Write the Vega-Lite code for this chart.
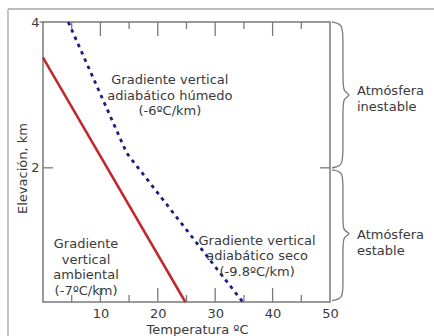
{
  "$schema": "https://vega.github.io/schema/vega-lite/v6.json",
  "width": 287,
  "height": 280,
  "autosize": {"type": "none"},
  "padding": {"left": 43, "top": 22, "right": 104, "bottom": 34},
  "background": "white",
  "config": {
    "view": {"stroke": "#7a7a7a", "strokeWidth": 1.5},
    "font": "DejaVu Sans",
    "axis": {"labelFont": "DejaVu Sans", "titleFont": "DejaVu Sans", "labelColor": "#3a3a3a", "titleColor": "#3a3a3a", "titleFontWeight": "normal", "grid": false, "domain": false, "labelFlush": false, "labelOverlap": false, "labelBound": false}
  },
  "datasets": {
    "amb": [
      {"t": 0, "h": 3.51},
      {"t": 24.8, "h": 0.16}
    ],
    "adi": [
      {"t": 4.4, "h": 4.0},
      {"t": 14.6, "h": 2.2},
      {"t": 34.8, "h": 0.16}
    ],
    "labels": [
      {"t": 22.1, "h": 3.2, "txt": "Gradiente vertical\nadiabático húmedo\n(-6ºC/km)"},
      {"t": 7.5, "h": 0.95, "txt": "Gradiente\nvertical\nambiental\n(-7ºC/km)"},
      {"t": 37.3, "h": 1.0, "txt": "Gradiente vertical\nadiabático seco\n(-9.8ºC/km)"}
    ],
    "side": [
      {"t": 54.7, "h": 3.055, "txt": "Atmósfera\ninestable"},
      {"t": 54.7, "h": 1.082, "txt": "Atmósfera\nestable"}
    ],
    "lines": [
      {"b": "top", "c": "guide", "i": 0, "t": 50.35, "h": 4.0},
      {"b": "top", "c": "guide", "i": 1, "t": 52.26, "h": 3.973},
      {"b": "top", "c": "guide", "i": 2, "t": 52.26, "h": 3.753},
      {"b": "top", "c": "guide", "i": 3, "t": 52.26, "h": 3.205},
      {"b": "top", "c": "guide", "i": 4, "t": 52.26, "h": 3.041},
      {"b": "top", "c": "guide", "i": 5, "t": 53.83, "h": 3.0},
      {"b": "top", "c": "guide", "i": 6, "t": 52.26, "h": 2.959},
      {"b": "top", "c": "guide", "i": 7, "t": 52.26, "h": 2.795},
      {"b": "top", "c": "guide", "i": 8, "t": 52.26, "h": 2.247},
      {"b": "top", "c": "guide", "i": 9, "t": 52.26, "h": 2.027},
      {"b": "top", "c": "guide", "i": 10, "t": 50.35, "h": 2.0},
      {"b": "bot", "c": "guide", "i": 0, "t": 50.35, "h": 1.973},
      {"b": "bot", "c": "guide", "i": 1, "t": 52.26, "h": 1.945},
      {"b": "bot", "c": "guide", "i": 2, "t": 52.26, "h": 1.767},
      {"b": "bot", "c": "guide", "i": 3, "t": 52.26, "h": 1.26},
      {"b": "bot", "c": "guide", "i": 4, "t": 52.26, "h": 1.137},
      {"b": "bot", "c": "guide", "i": 5, "t": 53.83, "h": 1.096},
      {"b": "bot", "c": "guide", "i": 6, "t": 52.26, "h": 1.055},
      {"b": "bot", "c": "guide", "i": 7, "t": 52.26, "h": 0.918},
      {"b": "bot", "c": "guide", "i": 8, "t": 52.26, "h": 0.397},
      {"b": "bot", "c": "guide", "i": 9, "t": 52.26, "h": 0.205},
      {"b": "bot", "c": "guide", "i": 10, "t": 50.35, "h": 0.178},
      {"b": "frameTop", "c": "frame", "i": 0, "t": 75, "h": 4.178},
      {"b": "frameTop", "c": "frame", "i": 1, "t": -6.1, "h": 4.178},
      {"b": "frameLeft", "c": "frame", "i": 0, "t": -6.1, "h": 4.178},
      {"b": "frameLeft", "c": "frame", "i": 1, "t": -6.1, "h": -1},
      {"b": "b5", "c": "guide", "i": 0, "t": 5, "h": 0.16}, {"b": "b5", "c": "guide", "i": 1, "t": 5, "h": 0.256},
      {"b": "b10", "c": "guide", "i": 0, "t": 10, "h": 0.16}, {"b": "b10", "c": "guide", "i": 1, "t": 10, "h": 0.352},
      {"b": "b15", "c": "guide", "i": 0, "t": 15, "h": 0.16}, {"b": "b15", "c": "guide", "i": 1, "t": 15, "h": 0.256},
      {"b": "b20", "c": "guide", "i": 0, "t": 20, "h": 0.16}, {"b": "b20", "c": "guide", "i": 1, "t": 20, "h": 0.352},
      {"b": "b25", "c": "guide", "i": 0, "t": 25, "h": 0.16}, {"b": "b25", "c": "guide", "i": 1, "t": 25, "h": 0.256},
      {"b": "b30", "c": "guide", "i": 0, "t": 30, "h": 0.16}, {"b": "b30", "c": "guide", "i": 1, "t": 30, "h": 0.352},
      {"b": "b35", "c": "guide", "i": 0, "t": 35, "h": 0.16}, {"b": "b35", "c": "guide", "i": 1, "t": 35, "h": 0.256},
      {"b": "b40", "c": "guide", "i": 0, "t": 40, "h": 0.16}, {"b": "b40", "c": "guide", "i": 1, "t": 40, "h": 0.352},
      {"b": "b45", "c": "guide", "i": 0, "t": 45, "h": 0.16}, {"b": "b45", "c": "guide", "i": 1, "t": 45, "h": 0.256},
      {"b": "t5", "c": "guide", "i": 0, "t": 5, "h": 4.0}, {"b": "t5", "c": "guide", "i": 1, "t": 5, "h": 3.904},
      {"b": "t10", "c": "guide", "i": 0, "t": 10, "h": 4.0}, {"b": "t10", "c": "guide", "i": 1, "t": 10, "h": 3.808},
      {"b": "t15", "c": "guide", "i": 0, "t": 15, "h": 4.0}, {"b": "t15", "c": "guide", "i": 1, "t": 15, "h": 3.904},
      {"b": "t20", "c": "guide", "i": 0, "t": 20, "h": 4.0}, {"b": "t20", "c": "guide", "i": 1, "t": 20, "h": 3.808},
      {"b": "t25", "c": "guide", "i": 0, "t": 25, "h": 4.0}, {"b": "t25", "c": "guide", "i": 1, "t": 25, "h": 3.904},
      {"b": "t30", "c": "guide", "i": 0, "t": 30, "h": 4.0}, {"b": "t30", "c": "guide", "i": 1, "t": 30, "h": 3.808},
      {"b": "t35", "c": "guide", "i": 0, "t": 35, "h": 4.0}, {"b": "t35", "c": "guide", "i": 1, "t": 35, "h": 3.904},
      {"b": "t40", "c": "guide", "i": 0, "t": 40, "h": 4.0}, {"b": "t40", "c": "guide", "i": 1, "t": 40, "h": 3.808},
      {"b": "t45", "c": "guide", "i": 0, "t": 45, "h": 4.0}, {"b": "t45", "c": "guide", "i": 1, "t": 45, "h": 3.904},
      {"b": "l2", "c": "guide", "i": 0, "t": 0, "h": 2.0}, {"b": "l2", "c": "guide", "i": 1, "t": 1.74, "h": 2.0},
      {"b": "r2", "c": "guide", "i": 0, "t": 48.26, "h": 2.0}, {"b": "r2", "c": "guide", "i": 1, "t": 50, "h": 2.0},
      {"b": "l4", "c": "guide", "i": 0, "t": -0.6, "h": 4.0}, {"b": "l4", "c": "guide", "i": 1, "t": 0, "h": 4.0}
    ]
  },
  "layer": [
    {
      "data": {"name": "amb"},
      "mark": {"type": "line", "color": "#c1272d", "strokeWidth": 2.5},
      "encoding": {
        "x": {
          "field": "t", "type": "quantitative",
          "scale": {"domain": [0, 50], "nice": false, "zero": false},
          "axis": {
            "orient": "bottom",
            "values": [10, 20, 30, 40, 50],
            "format": "d",
            "ticks": false,
            "labelPadding": 5,
            "labelFontSize": 13,
            "title": "Temperatura ºC",
            "titleFontSize": 13,
            "titleX": 154,
            "titleY": 21,
            "titleBaseline": "top"
          }
        },
        "y": {
          "field": "h", "type": "quantitative",
          "scale": {"domain": [0.16, 4], "nice": false, "zero": false},
          "axis": {
            "orient": "left",
            "values": [2, 4],
            "format": "d",
            "ticks": false,
            "labelPadding": 4,
            "labelFontSize": 13,
            "title": "Elevación, km",
            "titleFontSize": 13,
            "titleAngle": -90,
            "titleX": -17,
            "titleY": 146,
            "titleBaseline": "alphabetic",
            "titleAlign": "center"
          }
        }
      }
    },
    {
      "data": {"name": "adi"},
      "mark": {"type": "line", "color": "#1c1c80", "strokeWidth": 2.8, "strokeDash": [3.5, 4.5]},
      "encoding": {
        "x": {"field": "t", "type": "quantitative"},
        "y": {"field": "h", "type": "quantitative"}
      }
    },
    {
      "data": {"name": "lines"},
      "mark": {"type": "line", "strokeWidth": 1.3, "interpolate": "basis"},
      "encoding": {
        "x": {"field": "t", "type": "quantitative"},
        "y": {"field": "h", "type": "quantitative"},
        "detail": {"field": "b"},
        "color": {"field": "c", "type": "nominal", "scale": {"domain": ["guide", "frame"], "range": ["#7a7a7a", "#a6a6a6"]}, "legend": null},
        "order": {"field": "i", "type": "quantitative"}
      }
    },
    {
      "data": {"name": "labels"},
      "mark": {"type": "text", "align": "center", "baseline": "middle", "lineBreak": "\n", "lineHeight": 15.5, "fontSize": 13, "font": "DejaVu Sans", "color": "#3a3a3a"},
      "encoding": {
        "x": {"field": "t", "type": "quantitative"},
        "y": {"field": "h", "type": "quantitative"},
        "text": {"field": "txt"}
      }
    },
    {
      "data": {"name": "side"},
      "mark": {"type": "text", "align": "left", "baseline": "middle", "lineBreak": "\n", "lineHeight": 16, "fontSize": 13, "font": "DejaVu Sans", "color": "#3a3a3a"},
      "encoding": {
        "x": {"field": "t", "type": "quantitative"},
        "y": {"field": "h", "type": "quantitative"},
        "text": {"field": "txt"}
      }
    }
  ]
}
